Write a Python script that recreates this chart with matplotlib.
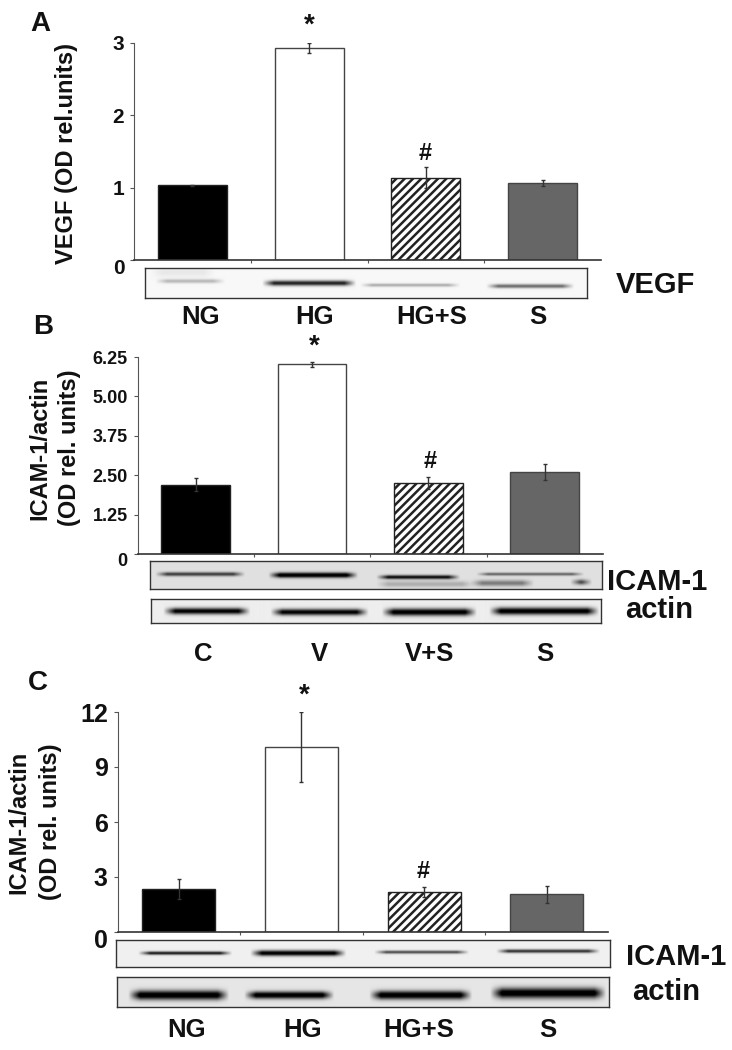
import matplotlib
matplotlib.use("Agg")
import matplotlib.pyplot as plt
import matplotlib.transforms as mtrans
import numpy as np

#figure size in pixels
W=732
H=1050

#data panel A
a_cats=["NG","HG","HG+S","S"]
a_vals=[1.03,2.93,1.14,1.06]
a_errs=[0.01,0.07,0.14,0.04]
a_ticks=[0,1,2,3]
a_ticklabels=["0","1","2","3"]

#data panel B
b_cats=["C","V","V+S","S"]
b_vals=[2.20,6.02,2.25,2.60]
b_errs=[0.20,0.08,0.20,0.25]
b_ticks=[0,1.25,2.5,3.75,5,6.25]
b_ticklabels=["0","1.25","2.50","3.75","5.00","6.25"]

#data panel C
c_cats=["NG","HG","HG+S","S"]
c_vals=[2.33,10.09,2.18,2.05]
c_errs=[0.55,1.90,0.27,0.47]
c_ticks=[0,3,6,9,12]
c_ticklabels=["0","3","6","9","12"]

#blot bands: x start, x end, y, thickness, darkness
a_blot=[(155,225,281,2,.25),(262,356,283,2.6,.85),(360,460,285,1.6,.3),(486,574,286,2,.55),
        (150,215,272,5,.06)]
b_blot1=[(155,245,574,2,.65),(268,358,575,2.6,1),(376,460,577,2,.85),(476,584,574,1.5,.5),
         (570,592,582,2.6,.7),(376,474,584,3,.2),(470,534,583,3,.4)]
b_blot2=[(163,250,611,3.2,.95),(270,368,612,3.2,.95),(381,476,612,3.6,1),(488,598,611,3.6,1)]
c_blot1=[(138,232,953,1.7,.85),(250,346,953,2.8,1),(374,469,952,1.6,.65),(496,600,951,1.8,.75)]
c_blot2=[(128,229,995,4.6,1),(244,334,995,3.6,1),(369,472,995,4.2,1),(490,606,993,5.2,1)]

fontname="Liberation Sans"

plt.rcParams['hatch.linewidth']=1.8
plt.rcParams['font.weight']='bold'

fig=plt.figure(figsize=(W/100,H/100),dpi=100)

def px_axes(x0,y0,x1,y1):
    return fig.add_axes([x0/W,1-y1/H,(x1-x0)/W,(y1-y0)/H])

def t(x,y,s,size=14,rot=0):
    fig.text(x/W,1-y/H,s,fontsize=size,family=fontname,fontweight='bold',rotation=rot,
             ha='center',va='center',color='#111111')

def bars(box,vals,errs,ticks,labels,width,size):
    x0,y0,x1,y1=box
    ax=px_axes(x0,y0,x1,y1)
    pos=np.arange(len(vals))
    fills=['black','white','white','#666666']
    hatches=[None,None,'////',None]
    edges=['#222222','#444444','#222222','#444444']
    for i in pos:
        ax.bar(pos[i],vals[i],width,color=fills[i],edgecolor=edges[i],hatch=hatches[i],linewidth=1,zorder=2)
    ax.errorbar(pos,vals,yerr=errs,fmt='none',ecolor='#333333',elinewidth=1,capsize=1.5,capthick=1,zorder=3)
    ax.set_xlim(-0.5,len(vals)-0.5)
    ax.set_ylim(0,ticks[-1])
    ax.spines['top'].set_visible(False)
    ax.spines['right'].set_visible(False)
    ax.spines['left'].set_color('#555555')
    ax.spines['bottom'].set_color('#333333')
    ax.spines['bottom'].set_linewidth(1.2)
    ax.set_xticks(pos[:-1]+0.5)
    ax.set_xticklabels([])
    ax.tick_params(axis='x',direction='out',length=2,color='#555555')
    ax.set_yticks(ticks)
    ax.set_yticklabels(labels,fontsize=size,family=fontname,fontweight='bold',color='#111111')
    ax.tick_params(axis='y',direction='out',length=3,color='#555555',pad=4)
    #zero label sits lower than its tick
    off=mtrans.ScaledTranslation(0,-6/100,fig.dpi_scale_trans)
    lab=ax.get_yticklabels()[0]
    lab.set_transform(lab.get_transform()+off)
    return ax

def blot(box,bands,bg):
    x0,y0,x1,y1=box
    ax=px_axes(x0,y0,x1,y1)
    xs=np.arange(x0,x1,0.5)
    ys=np.arange(y0,y1,0.25)
    X,Y=np.meshgrid(xs,ys)
    img=np.full(X.shape,float(bg))
    for (a,b,yy,th,d) in bands:
        prof=np.exp(-((Y-yy)/th)**2)
        ends=np.clip((X-a)/12,0,1)*np.clip((b-X)/12,0,1)
        img=img-d*prof*ends
    ax.imshow(np.clip(img,0,1),cmap='gray',vmin=0,vmax=1,extent=[x0,x1,y1,y0],aspect='auto',interpolation='bilinear')
    ax.set_xticks([])
    ax.set_yticks([])
    for s in ax.spines.values():
        s.set_color('#333333')
        s.set_linewidth(1)

#panel A
bars((134,43,601,260),a_vals,a_errs,a_ticks,a_ticklabels,0.59,15)
blot((145,268,587,298),a_blot,.97)
t(66,153,"VEGF (OD rel.units)",17,90)
for x,s in zip([201,315,432,538],a_cats):
    t(x,317,s,18.5)
t(655,285,"VEGF",21)
t(40,24,"A",20)
t(309,26,"*",20)
t(425,153,"#",17)

#panel B
bars((137.5,357,603,554),b_vals,b_errs,b_ticks,b_ticklabels,0.59,13)
blot((150,561,602,589),b_blot1,.88)
blot((151,599,601,623),b_blot2,.93)
t(40,448,"ICAM-1/actin",17,90)
t(69.5,448,"(OD rel. units)",17,90)
for x,s in zip([203,319,430,545],b_cats):
    t(x,654,s,18.5)
t(657,582,"ICAM-1",21)
t(659,610,"actin",21)
t(43,327,"B",20)
t(314,347,"*",20)
t(430,462,"#",17)

#panel C
bars((117.5,712,608,932),c_vals,c_errs,c_ticks,c_ticklabels,0.595,18)
blot((116,940,610,967),c_blot1,.94)
blot((117,977,609,1007),c_blot2,.9)
t(19,822,"ICAM-1/actin",17,90)
t(50,822,"(OD rel. units)",17,90)
for x,s in zip([187,303,419,548],c_cats):
    t(x,1030,s,18.5)
t(676,957,"ICAM-1",21)
t(666,992,"actin",21)
t(38,683,"C",20)
t(304,696,"*",20)
t(423.5,871,"#",17)

fig.savefig("out.png",dpi=100)
